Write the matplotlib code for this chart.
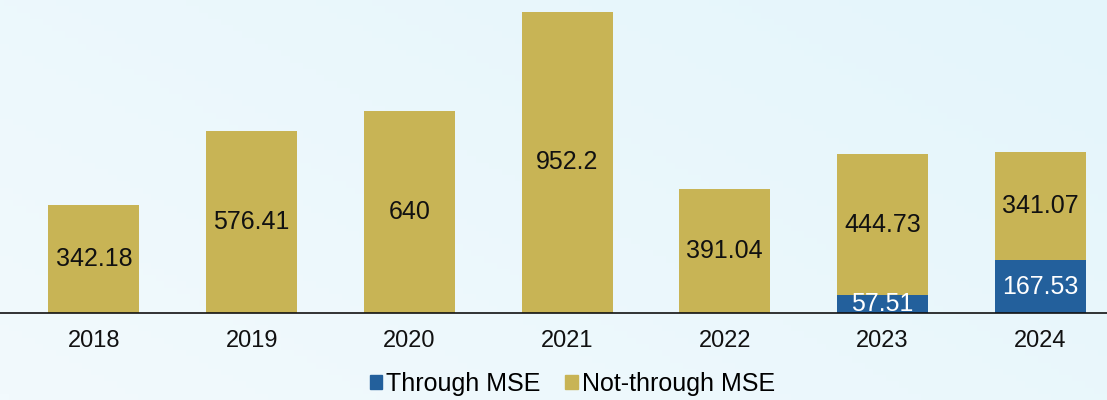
"""Stacked bar chart: Through MSE vs Not-through MSE by year."""
import matplotlib

matplotlib.use("Agg")
import matplotlib.pyplot as plt  # noqa: E402
import numpy as np  # noqa: E402
from matplotlib.patches import Patch  # noqa: E402

YEARS = ["2018", "2019", "2020", "2021", "2022", "2023", "2024"]
THROUGH_MSE = [0, 0, 0, 0, 0, 57.51, 167.53]
NOT_THROUGH_MSE = [342.18, 576.41, 640, 952.2, 391.04, 444.73, 341.07]
THROUGH_LABELS = ["", "", "", "", "", "57.51", "167.53"]
NOT_THROUGH_LABELS = ["342.18", "576.41", "640", "952.2", "391.04", "444.73", "341.07"]

BLUE = "#23609c"
GOLD = "#c8b455"

plt.rcParams["font.family"] = ["Liberation Sans", "DejaVu Sans"]

fig = plt.figure(figsize=(11.07, 4.0), dpi=100)

# soft light-blue gradient background
bg = fig.add_axes([0, 0, 1, 1], zorder=0)
gx = np.linspace(0, 1, 256)
gy = np.linspace(0, 1, 64)
grad = 0.6 * gx[None, :] + 0.4 * gy[:, None]
bg.imshow(grad, aspect="auto", cmap=matplotlib.colors.LinearSegmentedColormap.from_list(
    "bgc", ["#f2fafd", "#e4f5fb"]), extent=[0, 1, 0, 1], origin="lower")
bg.set_axis_off()

ax = fig.add_axes([0, 0.2175, 1, 0.7825], zorder=1)
ax.patch.set_alpha(0)
x = np.arange(len(YEARS))
width = 0.577

b1 = ax.bar(x, THROUGH_MSE, width, color=BLUE, label="Through MSE")
b2 = ax.bar(x, NOT_THROUGH_MSE, width, bottom=THROUGH_MSE, color=GOLD,
            label="Not-through MSE")
ax.bar_label(b1, labels=THROUGH_LABELS, label_type="center", color="white", fontsize=18)
ax.bar_label(b2, labels=NOT_THROUGH_LABELS, label_type="center", color="#111111",
             fontsize=18)

ax.set_xlim(-0.596, 6.424)
ax.set_ylim(0, 990)
ax.set_xticks(x, YEARS, fontsize=17, color="#111111")
ax.tick_params(axis="x", length=0, pad=12)
ax.set_yticks([])
for side in ("top", "right", "left"):
    ax.spines[side].set_visible(False)
ax.spines["bottom"].set_color("#111111")
ax.spines["bottom"].set_linewidth(1.2)

handles = [Patch(color=BLUE, label="Through MSE"), Patch(color=GOLD, label="Not-through MSE")]
fig.legend(handles=handles, loc="lower center", bbox_to_anchor=(0.517, -0.045), ncol=2,
           frameon=False, fontsize=18, handlelength=0.5, handleheight=0.5,
           handletextpad=0.15, columnspacing=1.0)

fig.savefig("out.png", dpi=100)
